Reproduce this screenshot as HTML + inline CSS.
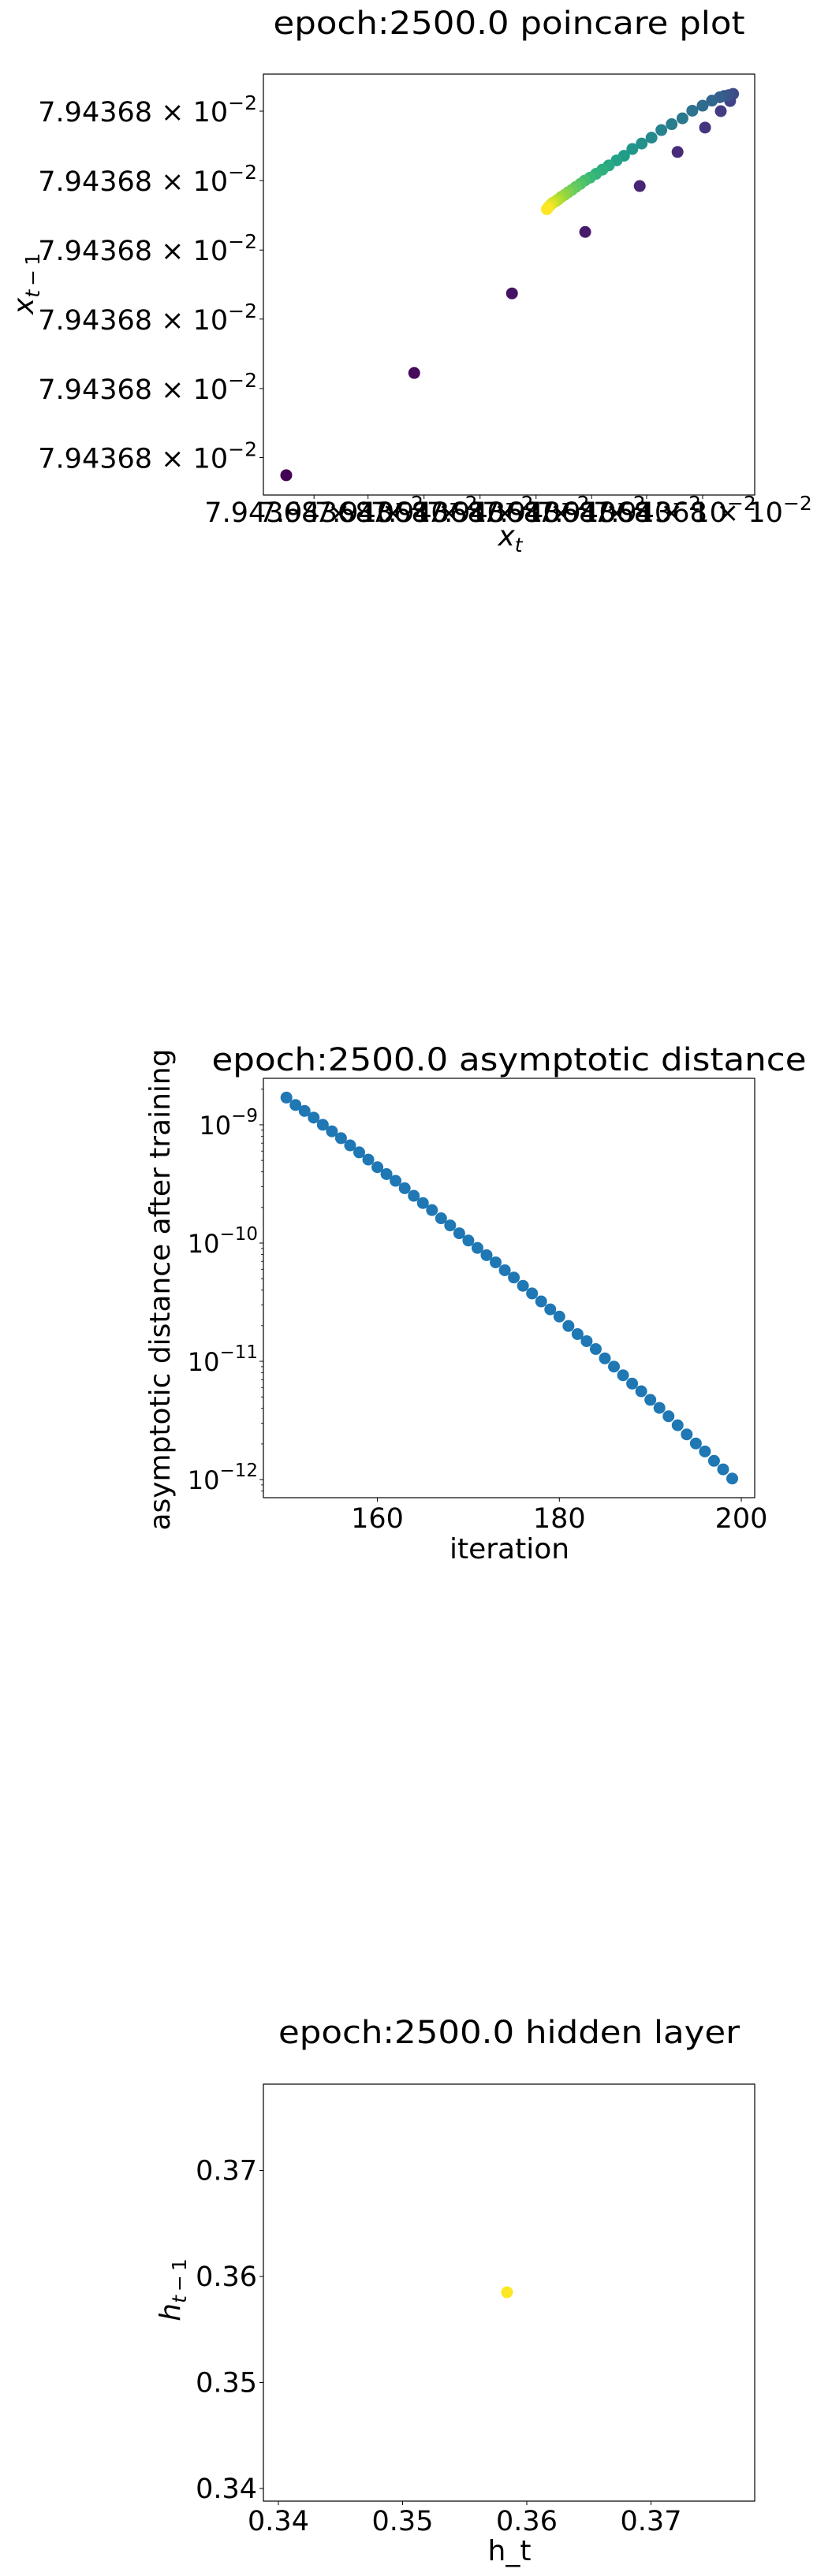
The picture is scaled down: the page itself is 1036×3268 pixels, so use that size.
<!DOCTYPE html>
<html><head><meta charset="utf-8"><style>
html,body{margin:0;padding:0;background:#fff;}
svg{display:block;font-family:"DejaVu Sans","Liberation Sans",sans-serif;}
</style></head><body>
<svg id="fig" width="1036" height="3268" viewBox="0 0 1036 3268" xmlns="http://www.w3.org/2000/svg"></svg>
<script>
// ---- Plot 1: poincare plot (offsets in arbitrary units of x_t, x_{t-1}) ----
const poincareX = [4.65,30.7,50.6,65.5,76.6,84.3,89.9,93.1,95.0,
 95.6,94.7,93.8,92.9,91.3,89.4,87.3,85.3,83.1,81.0,79.0,77.0,75.1,73.4,71.9,70.3,69.0,67.7,66.5,65.4,64.5,63.6,62.8,62.0,61.3,60.6,60.0,59.5,58.9,58.5,58.1,57.7];
const poincareY = [4.7,29.0,47.9,62.5,73.4,81.5,87.3,91.2,93.6,
 95.3,95.0,94.8,94.5,93.7,92.5,91.3,89.5,88.1,86.7,84.9,83.5,82.2,80.6,79.5,78.3,77.3,76.3,75.4,74.7,73.9,73.2,72.5,71.9,71.3,70.8,70.2,69.8,69.4,69.0,68.5,67.9];
const poincareXTicks = [10.3,21.3,32.7,44.1,55.5,66.8,78.0,89.4];
const poincareYTicks = [8.9,25.3,41.8,58.2,74.7,91.2];
const poincareTickLabel = "7.94368";

// ---- Plot 2: asymptotic distance ----
const iterations = [];
for (let i = 150; i < 200; i++) iterations.push(i);
const distances = [1.70e-9,1.47e-9,1.31e-9,1.15e-9,1.0e-9,8.81e-10,7.71e-10,6.70e-10,5.85e-10,5.08e-10,
 4.38e-10,3.83e-10,3.36e-10,2.91e-10,2.51e-10,2.18e-10,1.90e-10,1.62e-10,1.41e-10,1.21e-10,
 1.05e-10,9.1e-11,7.9e-11,6.87e-11,5.89e-11,5.11e-11,4.35e-11,3.75e-11,3.21e-11,2.75e-11,
 2.39e-11,1.99e-11,1.70e-11,1.48e-11,1.27e-11,1.06e-11,9.02e-12,7.62e-12,6.48e-12,5.58e-12,
 4.72e-12,4.04e-12,3.43e-12,2.88e-12,2.41e-12,2.02e-12,1.73e-12,1.44e-12,1.22e-12,1.02e-12];
const distXTicks = [160,180,200];
const distYTickExps = [-9,-10,-11,-12];

// ---- Plot 3: hidden layer ----
const hiddenX = [0.35841];
const hiddenY = [0.35851];
const hiddenTicks = [0.34,0.35,0.36,0.37];

const NS = "http://www.w3.org/2000/svg";
const svg = document.getElementById('fig');
function mk(tag, attrs, parent) {
  const e = document.createElementNS(NS, tag);
  for (const k in attrs) e.setAttribute(k, attrs[k]);
  (parent || svg).appendChild(e);
  return e;
}
function lin(d0, d1, p0, p1) { return v => p0 + (v - d0) * (p1 - p0) / (d1 - d0); }
const vir = [[68,1,84],[72,40,120],[62,74,137],[49,104,142],[38,130,142],[31,158,137],[53,183,121],[109,205,89],[180,222,44],[253,231,37]];
function viridis(t) {
  const s = t * (vir.length - 1), i = Math.min(Math.floor(s), vir.length - 2), f = s - i;
  const c = vir[i].map((a, k) => Math.round(a + (vir[i + 1][k] - a) * f));
  return `rgb(${c[0]},${c[1]},${c[2]})`;
}
function frame(g, L, T, R, B) {
  const r = mk('rect', {x: L, y: T, width: R - L, height: B - T, fill: 'none', stroke: '#000', 'stroke-width': 1.2}, g);
  
  
}
function title(g, txt, y, len) {
  const t = mk('text', {x: 645.5, y: y, 'text-anchor': 'middle', 'font-size': 40, textLength: len, lengthAdjust: 'spacingAndGlyphs'}, g);
  t.textContent = txt;
  
  
}
function sciLabel(g, x, y, anchor, name) {
  const t = mk('text', {x: x, y: y, 'text-anchor': anchor, 'font-size': 35}, g);
  const a = mk('tspan', {}, t); a.textContent = poincareTickLabel + " \u00d7 10";
  const b = mk('tspan', {'font-size': 25, dy: -15}, t); b.textContent = "\u22122";
  
  
  return t;
}

// ===== Plot 1 =====
(function () {
  const g = mk('g', {});
  
  
  const L = 334, R = 957, T = 94, B = 628;
  const sx = lin(0, 100, L, R), sy = lin(0, 100, B, T);
  title(g, "epoch:2500.0 poincare plot", 43, 598);
  const N = poincareX.length;
  for (let i = 0; i < N; i++) {
    const c = mk('circle', {cx: sx(poincareX[i]), cy: sy(poincareY[i]), r: 7.5, fill: viridis(i / (N - 1))}, g);
    
    
  }
  frame(g, L, T, R, B);
  poincareYTicks.forEach(v => {
    const y = sy(v);
    mk('line', {x1: L - 5, x2: L, y1: y, y2: y, stroke: '#000', 'stroke-width': 1}, g);
    sciLabel(g, 326, y + 13, 'end', 'y-tick-label');
  });
  poincareXTicks.forEach(v => {
    const x = sx(v);
    mk('line', {x1: x, x2: x, y1: B, y2: B + 5, stroke: '#000', 'stroke-width': 1}, g);
    sciLabel(g, x, 662, 'middle', 'x-tick-label');
  });
  const xl = mk('text', {x: 647, y: 692, 'text-anchor': 'middle', 'font-size': 36, 'font-style': 'italic'}, g);
  const xa = mk('tspan', {}, xl); xa.textContent = 'x';
  const xb = mk('tspan', {'font-size': 25, dy: 8}, xl); xb.textContent = 't';
  
  
  const yl = mk('text', {x: 0, y: 0, 'text-anchor': 'middle', 'font-size': 36, transform: 'translate(42,360) rotate(-90)'}, g);
  const ya = mk('tspan', {'font-style': 'italic'}, yl); ya.textContent = 'x';
  const yb = mk('tspan', {'font-size': 25, dy: 8, 'font-style': 'italic'}, yl); yb.textContent = 't';
  const yc = mk('tspan', {'font-size': 25}, yl); yc.textContent = '\u2009\u2212\u20091';
  
  
})();

// ===== Plot 2 =====
(function () {
  const g = mk('g', {});
  
  
  const L = 334, R = 957, T = 1368, B = 1900;
  const sx = lin(147.47, 201.47, L, R);
  const sly = lin(-8.607, -12.153, T, B);
  const sy = v => sly(Math.log10(v));
  title(g, "epoch:2500.0 asymptotic distance", 1358, 754);
  for (let i = 0; i < iterations.length; i++) {
    const c = mk('circle', {cx: sx(iterations[i]), cy: sy(distances[i]), r: 7.5, fill: '#1f77b4'}, g);
    
    
  }
  frame(g, L, T, R, B);
  for (let e = -13; e <= -8; e++) {
    for (let m = 2; m <= 9; m++) {
      const y = sy(m * Math.pow(10, e));
      if (y > T && y < B) mk('line', {x1: L - 3, x2: L, y1: y, y2: y, stroke: '#000', 'stroke-width': 0.8}, g);
    }
  }
  distYTickExps.forEach(e => {
    const y = sy(Math.pow(10, e));
    mk('line', {x1: L - 5, x2: L, y1: y, y2: y, stroke: '#000', 'stroke-width': 1}, g);
    const t = mk('text', {x: 327, y: y + 12, 'text-anchor': 'end', 'font-size': 32}, g);
    const a = mk('tspan', {}, t); a.textContent = '10';
    const b = mk('tspan', {'font-size': 23, dy: -16}, t); b.textContent = '\u2212' + Math.abs(e);
    
    
  });
  distXTicks.forEach(v => {
    const x = sx(v);
    mk('line', {x1: x, x2: x, y1: B, y2: B + 5, stroke: '#000', 'stroke-width': 1}, g);
    const t = mk('text', {x: x, y: 1938, 'text-anchor': 'middle', 'font-size': 35}, g);
    t.textContent = String(v);
    
    
  });
  const xl = mk('text', {x: 646, y: 1977, 'text-anchor': 'middle', 'font-size': 36}, g);
  xl.textContent = 'iteration';
  
  
  const yl = mk('text', {x: 0, y: 0, 'text-anchor': 'middle', 'font-size': 36, textLength: 611, lengthAdjust: 'spacingAndGlyphs', transform: 'translate(215,1636) rotate(-90)'}, g);
  yl.textContent = 'asymptotic distance after training';
  
  
})();

// ===== Plot 3 =====
(function () {
  const g = mk('g', {});
  
  
  const L = 334, R = 957, T = 2644, B = 3173;
  const sx = lin(0.34, 0.36, 353, 668);
  const sy = lin(0.34, 0.36, 3157, 2888);
  title(g, "epoch:2500.0 hidden layer", 2592, 585);
  for (let i = 0; i < hiddenX.length; i++) {
    const c = mk('circle', {cx: sx(hiddenX[i]), cy: sy(hiddenY[i]), r: 7.5, fill: '#fde725'}, g);
    
    
  }
  frame(g, L, T, R, B);
  hiddenTicks.forEach(v => {
    const y = sy(v), x = sx(v);
    mk('line', {x1: L - 5, x2: L, y1: y, y2: y, stroke: '#000', 'stroke-width': 1}, g);
    const ty = mk('text', {x: 326, y: y + 12, 'text-anchor': 'end', 'font-size': 35}, g);
    ty.textContent = v.toFixed(2);
    
    
    mk('line', {x1: x, x2: x, y1: B, y2: B + 5, stroke: '#000', 'stroke-width': 1}, g);
    const tx = mk('text', {x: x, y: 3210, 'text-anchor': 'middle', 'font-size': 35}, g);
    tx.textContent = v.toFixed(2);
    
    
  });
  const xl = mk('text', {x: 646, y: 3248, 'text-anchor': 'middle', 'font-size': 36}, g);
  xl.textContent = 'h_t';
  
  
  const yl = mk('text', {x: 0, y: 0, 'text-anchor': 'middle', 'font-size': 36, transform: 'translate(228,2905) rotate(-90)'}, g);
  const ya = mk('tspan', {'font-style': 'italic'}, yl); ya.textContent = 'h';
  const yb = mk('tspan', {'font-size': 25, dy: 8, 'font-style': 'italic'}, yl); yb.textContent = 't';
  const yc = mk('tspan', {'font-size': 25}, yl); yc.textContent = '\u2009\u2212\u20091';
  
  
})();
</script>
</body></html>
